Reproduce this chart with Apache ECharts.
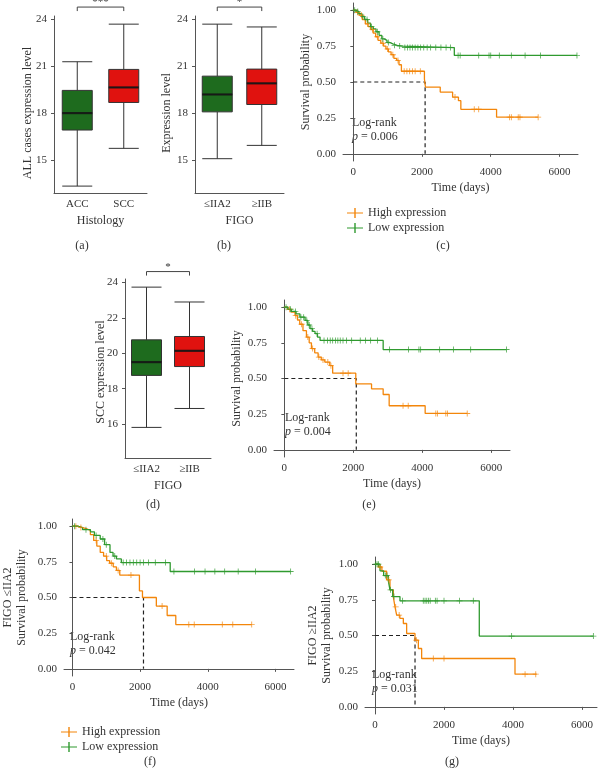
<!DOCTYPE html>
<html>
<head>
<meta charset="utf-8">
<script src="https://cdn.jsdelivr.net/npm/echarts@6/dist/echarts.min.js"></script>
<style>
  html, body { margin: 0; padding: 0; background: #fff; }
  #chart { width: 602px; height: 768px; }
</style>
</head>
<body>
<div id="chart"></div>
<script>
const FONT = '"Liberation Serif", "DejaVu Serif", serif';
const TXT = '#333';
const AXIS = '#555';
const ORANGE = '#f3860b';
const GREEN = '#2f9a2f';
const BOX_FILLS = ['#1e6b1e', '#e0120f'];

// box plots, each entry is [min, Q1, median, Q3, max]
const histologyCats = ['ACC', 'SCC'];
const figoCats = ['≤IIA2', '≥IIB'];
const boxAll = [[13.34, 16.92, 18.0, 19.45, 21.28], [15.75, 18.68, 19.64, 20.79, 23.68]];
const boxFigo = [[15.09, 18.08, 19.19, 20.36, 23.68], [15.94, 18.55, 19.9, 20.81, 23.5]];
const boxScc = [[15.81, 18.75, 19.5, 20.76, 23.74], [16.88, 19.25, 20.14, 20.95, 22.9]];
const sigLabels = ['***', '*', '*'];
const sigHeights = [24.77, 24.77, 24.62];

// Kaplan-Meier steps [time, survival] and censor times
const kmC_high = [[0,1],[80,0.985],[170,0.965],[260,0.935],[350,0.905],[430,0.885],[500,0.865],[580,0.84],[650,0.815],[720,0.79],[800,0.77],[880,0.75],[950,0.73],[1020,0.71],[1100,0.69],[1180,0.665],[1260,0.65],[1330,0.62],[1400,0.575],[2070,0.52],[2100,0.465],[2530,0.43],[2890,0.395],[3060,0.37],[3130,0.31],[4170,0.255],[5380,0.255]];
const censC_high = [120,240,420,560,700,860,1000,1150,1300,1480,1560,1640,1720,1800,1950,2960,3520,3650,4550,4600,4800,4850,5380];
const kmC_low = [[0,1],[80,0.99],[160,0.975],[250,0.955],[330,0.935],[420,0.91],[500,0.885],[580,0.87],[660,0.85],[750,0.825],[830,0.8],[900,0.79],[980,0.775],[1060,0.765],[1150,0.755],[1280,0.75],[1450,0.74],[2940,0.685],[6510,0.685]];
const censC_low = [40,130,280,400,530,700,860,1020,1200,1350,1500,1580,1650,1720,1800,1880,1960,2050,2150,2250,2400,2550,2700,2830,3050,3110,3650,3950,4000,4250,4600,5000,5450,6510];

const kmE_high = [[0,1],[100,0.985],[200,0.965],[310,0.94],[380,0.91],[446,0.88],[540,0.835],[640,0.79],[720,0.75],[785,0.71],[880,0.68],[978,0.65],[1070,0.63],[1172,0.615],[1316,0.59],[1400,0.537],[2070,0.462],[2527,0.428],[2864,0.388],[3038,0.309],[4081,0.255],[5300,0.255]];
const censE_high = [150,330,500,680,820,1000,1120,1260,1350,1700,1850,3440,3590,4390,4440,4680,4730,5300];
const kmE_low = [[0,1],[100,0.985],[200,0.97],[340,0.953],[450,0.93],[600,0.907],[680,0.875],[745,0.849],[820,0.83],[890,0.814],[960,0.79],[1035,0.767],[2864,0.703],[6440,0.703]];
const censE_low = [50,180,320,480,560,650,720,800,950,1150,1250,1330,1400,1480,1550,1620,1700,1800,1950,2200,2350,2500,2700,3050,3600,3900,3950,4500,4900,5400,6440];

const kmF_high = [[0,1],[150,0.99],[300,0.98],[434,0.97],[530,0.94],[627,0.9],[720,0.86],[821,0.816],[920,0.79],[1012,0.758],[1100,0.74],[1205,0.715],[1300,0.69],[1399,0.657],[1980,0.546],[2070,0.5],[2480,0.44],[2800,0.374],[3055,0.31],[5300,0.31]];
const censF_high = [100,250,700,1000,1150,1350,1730,2650,3440,3600,4430,4740,5300];
const kmF_low = [[0,1],[150,0.99],[300,0.975],[532,0.96],[650,0.935],[821,0.91],[950,0.87],[1110,0.816],[1200,0.79],[1301,0.77],[1445,0.745],[2890,0.682],[6450,0.682]];
const censF_low = [60,400,700,900,1000,1250,1500,1600,1700,1800,1900,2000,2100,2250,2450,2750,3000,3610,3920,4210,4500,4900,5410,6450];

const kmG_high = [[0,1],[100,0.98],[200,0.95],[337,0.89],[434,0.82],[531,0.77],[579,0.7],[628,0.643],[720,0.62],[821,0.584],[917,0.514],[1159,0.467],[1256,0.409],[1352,0.339],[4058,0.229],[4686,0.229]];
const censG_high = [150,400,600,700,1200,1690,2000,4350,4660];
const kmG_low = [[0,1],[145,0.953],[250,0.92],[386,0.883],[434,0.82],[513,0.773],[724,0.743],[3023,0.496],[6330,0.496]];
const censG_low = [20,60,100,300,350,450,550,800,1400,1450,1500,1550,1600,1750,1800,2000,2450,2850,3960,6330];

const medianTimes = [2090, 2085, 2100, 1160];
const pValues = ['0.006', '0.004', '0.042', '0.031'];
const kmTicksX = [0, 2000, 4000, 6000];
const kmTicksY = [0, 0.25, 0.5, 0.75, 1];

const PLUS = 'path://M4.3,0H5.7V4.3H10V5.7H5.7V10H4.3V5.7H0V4.3H4.3Z';
const LEGEND_ICON = 'path://M0,4.4H7.3V0H8.7V4.4H16V5.6H8.7V10H7.3V5.6H0Z';

const boxPanels = [
  { grid: { left: 54, top: 16, width: 93, height: 177 }, cats: histologyCats, data: boxAll, xName: 'Histology',
    yMin: 12.9, yMax: 24.2, yTicks: [15, 18, 21, 24], title: 'ALL cases expression level', titlePos: [28, 113] },
  { grid: { left: 195, top: 16, width: 89, height: 177 }, cats: figoCats, data: boxFigo, xName: 'FIGO',
    yMin: 12.9, yMax: 24.2, yTicks: [15, 18, 21, 24], title: 'Expression level', titlePos: [167, 113] },
  { grid: { left: 125, top: 279, width: 86, height: 179 }, cats: figoCats, data: boxScc, xName: 'FIGO',
    yMin: 14.08, yMax: 24.2, yTicks: [16, 18, 20, 22, 24], title: 'SCC expression level', titlePos: [101, 372] }
];

const kmPanels = [
  { grid: { left: 343, top: 3, width: 235, height: 158 }, xMin: -300, xMax: 6540,
    high: kmC_high, low: kmC_low, highCens: censC_high, lowCens: censC_low,
    yName: 'Survival probability', nameGap: 30, logrank: [352, 123] },
  { grid: { left: 274, top: 300, width: 236, height: 157 }, xMin: -300, xMax: 6540,
    high: kmE_high, low: kmE_low, highCens: censE_high, lowCens: censE_low,
    yName: 'Survival probability', nameGap: 30, logrank: [285, 418] },
  { grid: { left: 60, top: 519, width: 234, height: 157 }, xMin: -250, xMax: 6550,
    high: kmF_high, low: kmF_low, highCens: censF_high, lowCens: censF_low,
    yName: 'FIGO ≤IIA2\nSurvival probability', nameGap: 35, logrank: [70, 637] },
  { grid: { left: 365, top: 557, width: 232, height: 157 }, xMin: -290, xMax: 6435,
    high: kmG_high, low: kmG_low, highCens: censG_high, lowCens: censG_low,
    yName: 'FIGO ≥IIA2\nSurvival probability', nameGap: 31, logrank: [372, 675] }
];

const panelLetters = [
  ['(a)', 82, 246], ['(b)', 224, 246], ['(c)', 443, 246], ['(d)', 153, 505],
  ['(e)', 369, 505], ['(f)', 150, 762], ['(g)', 452, 762]
];

function stepAt(curve, t) {
  let y = curve[0][1];
  for (const [x, v] of curve) {
    if (x <= t) y = v;
  }
  return y;
}

const axisLineStyle = { show: true, lineStyle: { color: AXIS, width: 1 } };
const labelStyle = { color: TXT, fontFamily: FONT, fontSize: 11 };
const nameStyle = { color: TXT, fontFamily: FONT, fontSize: 12, lineHeight: 14 };

const grids = [];
const xAxes = [];
const yAxes = [];
const series = [];
const graphics = [];

boxPanels.forEach((p, i) => {
  grids.push(p.grid);
  xAxes.push({
    gridIndex: i, type: 'category', data: p.cats,
    name: p.xName, nameLocation: 'middle', nameGap: 21, nameTextStyle: nameStyle,
    axisLine: axisLineStyle,
    axisTick: { alignWithLabel: true, length: 3, lineStyle: { color: AXIS } },
    axisLabel: Object.assign({ margin: 6 }, labelStyle),
    splitLine: { show: false }
  });
  yAxes.push({
    gridIndex: i, type: 'value', min: p.yMin, max: p.yMax,
    axisLine: axisLineStyle,
    axisTick: { show: true, length: 3, customValues: p.yTicks, lineStyle: { color: AXIS } },
    axisLabel: Object.assign({ margin: 7, customValues: p.yTicks, formatter: v => String(v) }, labelStyle),
    splitLine: { show: false }
  });
  series.push({
    type: 'boxplot', xAxisIndex: i, yAxisIndex: i, boxWidth: [30, 30],
    data: p.data.map((d, k) => ({
      value: d,
      itemStyle: { color: BOX_FILLS[k], borderColor: '#333', borderWidth: 1 }
    }))
  });
  series.push({
    type: 'scatter', xAxisIndex: i, yAxisIndex: i, symbol: 'rect', symbolSize: [30, 2.2],
    itemStyle: { color: '#111' }, z: 5,
    data: p.data.map((d, k) => [k, d[2]])
  });
  series.push({
    type: 'custom', xAxisIndex: i, yAxisIndex: i, clip: false, z: 5,
    data: [[0, 1, sigHeights[i]]],
    renderItem: (params, api) => {
      const y = api.value(2);
      const a = api.coord([0, y]);
      const b = api.coord([1, y]);
      return {
        type: 'group',
        children: [
          { type: 'polyline',
            shape: { points: [[a[0], a[1] + 4], a, b, [b[0], b[1] + 4]] },
            style: { stroke: '#444', lineWidth: 1, fill: null } },
          { type: 'text', x: (a[0] + b[0]) / 2, y: a[1] + 1,
            style: { text: sigLabels[i], fill: TXT, font: '11px ' + FONT, align: 'center', verticalAlign: 'bottom' } }
        ]
      };
    }
  });
  graphics.push({
    type: 'text', x: p.titlePos[0], y: p.titlePos[1], rotation: Math.PI / 2,
    style: { text: p.title, fill: TXT, font: '12px ' + FONT, align: 'center', verticalAlign: 'middle' }
  });
});

kmPanels.forEach((p, j) => {
  const i = boxPanels.length + j;
  grids.push(p.grid);
  xAxes.push({
    gridIndex: i, type: 'value', min: p.xMin, max: p.xMax,
    name: 'Time (days)', nameLocation: 'middle', nameGap: 20, nameTextStyle: nameStyle,
    axisLine: axisLineStyle,
    axisTick: { show: true, length: 3, customValues: kmTicksX, lineStyle: { color: AXIS } },
    axisLabel: Object.assign({ margin: 6, customValues: kmTicksX, formatter: v => String(v) }, labelStyle),
    splitLine: { show: false }
  });
  yAxes.push({
    gridIndex: i, type: 'value', min: -0.05, max: 1.05,
    name: p.yName, nameLocation: 'middle', nameGap: p.nameGap, nameTextStyle: nameStyle,
    axisLine: axisLineStyle,
    axisTick: { show: true, length: 3, customValues: kmTicksY, lineStyle: { color: AXIS } },
    axisLabel: Object.assign({ margin: 7, customValues: kmTicksY, formatter: v => v.toFixed(2) }, labelStyle),
    splitLine: { show: false }
  });
  const m = medianTimes[j];
  series.push({
    type: 'line', xAxisIndex: i, yAxisIndex: i, showSymbol: false, silent: true, z: 1,
    lineStyle: { color: '#222', width: 1.2, type: [4, 3] },
    data: [[0, 0.5], [m, 0.5], [m, 0]]
  });
  [['High expression', p.high, p.highCens, ORANGE], ['Low expression', p.low, p.lowCens, GREEN]].forEach(([name, curve, cens, color]) => {
    series.push({
      name, type: 'line', step: 'end', xAxisIndex: i, yAxisIndex: i, showSymbol: false, z: 3,
      color, lineStyle: { color, width: 1.3 },
      data: curve
    });
    series.push({
      name: name + ' censored', type: 'scatter', xAxisIndex: i, yAxisIndex: i, z: 4,
      symbol: PLUS, symbolSize: 6, itemStyle: { color },
      data: cens.map(t => [t, stepAt(curve, t)])
    });
  });
  graphics.push({
    type: 'text', x: p.logrank[0], y: p.logrank[1],
    style: { text: 'Log-rank', fill: TXT, font: '12px ' + FONT, verticalAlign: 'middle' }
  });
  graphics.push({
    type: 'text', x: p.logrank[0], y: p.logrank[1] + 14,
    style: {
      text: '{i|p} = ' + pValues[j], fill: TXT, font: '12px ' + FONT, verticalAlign: 'middle',
      rich: { i: { fontStyle: 'italic', fontFamily: FONT, fontSize: 12, fill: TXT } }
    }
  });
});

panelLetters.forEach(([t, x, y]) => {
  graphics.push({
    type: 'text', x, y,
    style: { text: t, fill: TXT, font: '12px ' + FONT, align: 'center', verticalAlign: 'middle' }
  });
});

const legendCommon = {
  orient: 'vertical', selectedMode: false, icon: LEGEND_ICON,
  itemWidth: 16, itemHeight: 10, itemGap: 3,
  textStyle: { color: TXT, fontFamily: FONT, fontSize: 12 },
  data: ['High expression', 'Low expression']
};

const chart = echarts.init(document.getElementById('chart'));
chart.setOption({
  animation: false,
  backgroundColor: '#fff',
  grid: grids,
  xAxis: xAxes,
  yAxis: yAxes,
  legend: [
    Object.assign({ left: 342, top: 202 }, legendCommon),
    Object.assign({ left: 56, top: 721 }, legendCommon)
  ],
  graphic: graphics,
  series
});
</script>
</body>
</html>
